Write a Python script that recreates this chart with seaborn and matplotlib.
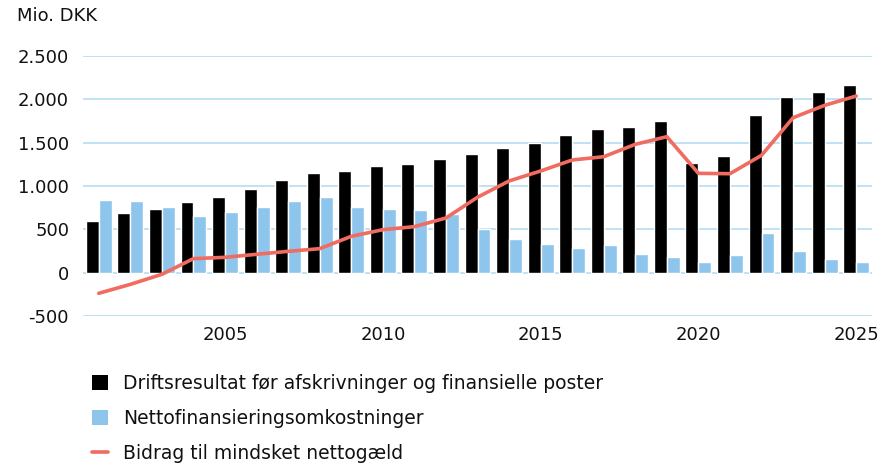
import numpy as np
import pandas as pd
import matplotlib
matplotlib.use("Agg")
import matplotlib.pyplot as plt
import seaborn as sns
from matplotlib.lines import Line2D
from matplotlib.patches import Patch
from matplotlib.ticker import FuncFormatter

years = list(range(2001, 2026))
drift = [596, 688, 735, 815, 873, 965, 1069, 1150, 1173, 1231, 1254, 1311, 1369,
         1438, 1496, 1588, 1658, 1681, 1750, 1265, 1346, 1819, 2027, 2085, 2165]
netfin = [838, 827, 758, 654, 700, 758, 827, 873, 758, 735, 723, 677, 500,
          388, 331, 285, 319, 215, 181, 123, 204, 458, 250, 158, 123]
bidrag = [-238, -135, -19, 162, 177, 212, 246, 277, 419, 496, 531, 631, 870,
          1058, 1173, 1300, 1338, 1481, 1569, 1146, 1142, 1354, 1788, 1931, 2038]

lab_d = "Driftsresultat før afskrivninger og finansielle poster"
lab_n = "Nettofinansieringsomkostninger"
lab_b = "Bidrag til mindsket nettogæld"
c_black = "#000000"
c_blue = "#8EC5EC"
c_red = "#F06B60"
c_grid = "#B5DBF2"

sns.set_theme(style="white")
plt.rcParams["font.family"] = ["DejaVu Sans"]

df = pd.DataFrame({
    "year": years * 2,
    "value": drift + netfin,
    "serie": [lab_d] * len(years) + [lab_n] * len(years),
})

fig = plt.figure(figsize=(8.86, 4.67), dpi=100)
ax = fig.add_axes([83 / 886, 1 - 316 / 467, (872 - 83) / 886, (316 - 56) / 467])

sns.barplot(data=df, x="year", y="value", hue="serie", native_scale=True,
            palette=[c_black, c_blue], width=0.82, gap=0, dodge=True,
            saturation=1, ax=ax, legend=False, zorder=3)
sns.lineplot(x=years, y=bidrag, color=c_red, linewidth=2.6, ax=ax, zorder=4)

ax.set_xlim(2000.5, 2025.5)
ax.set_ylim(-500, 2500)
ax.set_yticks(range(-500, 2501, 500))
ax.set_xticks([2005, 2010, 2015, 2020, 2025])
ax.yaxis.set_major_formatter(FuncFormatter(lambda v, p: f"{int(v):,}".replace(",", ".")))
ax.grid(axis="y", color=c_grid, linewidth=1.2, zorder=0)
ax.set_axisbelow(True)
for s in ax.spines.values():
    s.set_visible(False)
ax.set_xlabel("")
ax.set_ylabel("")
ax.tick_params(axis="y", length=0, pad=10, labelsize=13, labelcolor="#111111")
ax.tick_params(axis="x", length=0, pad=7, labelsize=13, labelcolor="#111111")

fig.text(17 / 886, 1 - 16 / 467, "Mio. DKK", fontsize=13, color="#111111",
         va="center", ha="left")

handles = [
    Patch(facecolor=c_black, edgecolor="none"),
    Patch(facecolor=c_blue, edgecolor="none"),
    Line2D([0], [0], color=c_red, linewidth=2.6),
]
fig.legend(handles, [lab_d, lab_n, lab_b], loc="lower left",
           bbox_to_anchor=(80 / 886, -8 / 467), frameon=False, fontsize=13.5,
           handlelength=0.85, handleheight=0.85, handletextpad=0.8,
           labelspacing=0.85, borderaxespad=0.25, labelcolor="#111111")

fig.savefig("out.png", dpi=100)
